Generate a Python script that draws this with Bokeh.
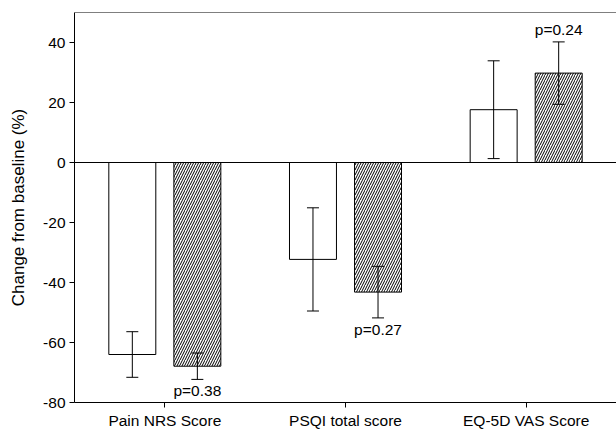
from bokeh.plotting import figure
from bokeh.models import (ColumnDataSource, FactorRange, Range1d, Whisker, Span, TeeHead,
                          FixedTicker, PrintfTickFormatter)
from bokeh.transform import dodge
from bokeh.core.properties import value
from bokeh.embed import file_html
from bokeh.resources import INLINE

categories = ["Pain NRS Score", "PSQI total score", "EQ-5D VAS Score"]
group_a = [-64.0, -32.3, 17.6]      # open bars
group_a_err = [7.6, 17.2, 16.3]
group_b = [-67.9, -43.2, 29.8]      # hatched bars
group_b_err = [4.4, 8.6, 10.4]
p_labels = ["p=0.38", "p=0.27", "p=0.24"]
y_ticks = [-80, -60, -40, -20, 0, 20, 40]

FONT = "Liberation Sans"

a_lo = [v - e for v, e in zip(group_a, group_a_err)]
a_hi = [v + e for v, e in zip(group_a, group_a_err)]
b_lo = [v - e for v, e in zip(group_b, group_b_err)]
b_hi = [v + e for v, e in zip(group_b, group_b_err)]

src = ColumnDataSource(dict(cat=categories, a=group_a, b=group_b,
                            a_lo=a_lo, a_hi=a_hi, b_lo=b_lo, b_hi=b_hi))

p = figure(x_range=FactorRange(factors=categories), y_range=Range1d(-80, 50),
           width=616, height=432, output_backend="svg", toolbar_location=None,
           min_border_left=74, min_border_right=0, min_border_top=12, min_border_bottom=30)
p.outline_line_color = None
p.grid.grid_line_color = None
p.background_fill_color = "white"

off = 0.18
bw = 0.26
p.vbar(x=dodge("cat", -off, range=p.x_range), top="a", bottom=0, width=bw, source=src,
       fill_color="white", line_color="black", line_width=1)
p.vbar(x=dodge("cat", off, range=p.x_range), top="b", bottom=0, width=bw, source=src,
       fill_color="white", line_color="black", line_width=1,
       hatch_pattern="/", hatch_color="black", hatch_scale=5, hatch_weight=1)

for xs, lo, hi in [(-off, "a_lo", "a_hi"), (off, "b_lo", "b_hi")]:
    w = Whisker(base=dodge("cat", xs, range=p.x_range), lower=lo, upper=hi, source=src,
                line_color="black", line_width=1, level="overlay",
                upper_head=TeeHead(size=12, line_color="black", line_width=1),
                lower_head=TeeHead(size=12, line_color="black", line_width=1))
    p.add_layout(w)

p.add_layout(Span(location=0, dimension="width", line_color="black", line_width=1))
p.add_layout(Span(location=50, dimension="width", line_color="black", line_width=1))

# p-value labels
lab_a = ColumnDataSource(dict(cat=categories[:2], y=[b_lo[0], b_lo[1]], t=p_labels[:2]))
lab_b = ColumnDataSource(dict(cat=categories[2:], y=[b_hi[2]], t=p_labels[2:]))
p.text(x=dodge("cat", off, range=p.x_range), y="y", text="t", source=lab_a,
       text_align="center", text_baseline="top", y_offset=3,
       text_font=value(FONT), text_font_size="15.5px", text_color="black")
p.text(x=dodge("cat", off, range=p.x_range), y="y", text="t", source=lab_b,
       text_align="center", text_baseline="bottom", y_offset=-4,
       text_font=value(FONT), text_font_size="15.5px", text_color="black")

p.yaxis.ticker = FixedTicker(ticks=y_ticks)
p.yaxis.formatter = PrintfTickFormatter(format="%d")
p.yaxis.minor_tick_line_color = None
p.yaxis.major_tick_out = 5
p.yaxis.major_tick_in = 0
p.xaxis.major_tick_out = 5
p.xaxis.major_tick_in = 0
for ax in (p.xaxis, p.yaxis):
    ax.axis_line_color = "black"
    ax.major_tick_line_color = "black"
    ax.major_label_text_font = FONT
    ax.major_label_text_font_size = "15.5px"
    ax.major_label_text_color = "black"
p.yaxis.axis_label = "Change from baseline (%)"
p.yaxis.axis_label_text_font = FONT
p.yaxis.axis_label_text_font_size = "17px"
p.yaxis.axis_label_text_font_style = "normal"
p.yaxis.axis_label_text_color = "black"
p.yaxis.axis_label_standoff = 12
p.yaxis.major_label_standoff = 4
p.xaxis.major_label_standoff = 4

open("out.html", "w").write(file_html(p, INLINE))
